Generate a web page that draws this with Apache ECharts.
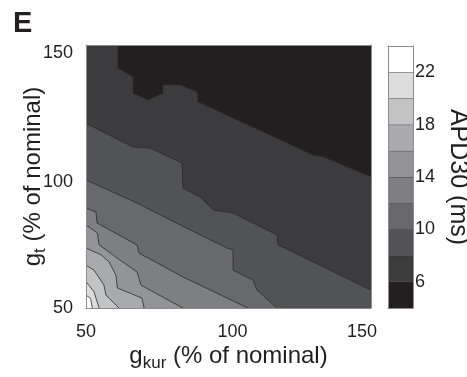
<!DOCTYPE html>
<html>
<head>
<meta charset="utf-8">
<script src="https://cdn.jsdelivr.net/npm/echarts@6/dist/echarts.min.js"></script>
<style>
  html, body { margin: 0; background: #fff; }
  #chart { width: 467px; height: 377px; }
</style>
</head>
<body>
<div id="chart"></div>
<script>
// APD30 isolines, points are [gkur %, gt %]
const apd6 = [[61.2, 150], [61.2, 141.3], [66.5, 137.9], [66.5, 131.7], [71.8, 129.1], [77, 131.7], [77, 134.8], [83, 134.8], [88.9, 132.2], [89.3, 128.4], [129.6, 108.2], [133.2, 107.5], [150, 99.9]];
const apd8 = [[50, 120.2], [66.5, 111.2], [72.5, 110.8], [83.7, 105.1], [84, 95.6], [90, 92.2], [94.6, 87.3], [101.6, 86.1], [117, 77.8], [117.4, 74], [150, 56.8]];
const apd10 = [[50, 98.7], [67.9, 89.9], [83, 81.6], [99.5, 72.8], [101.6, 72.1], [101.6, 64.4], [108.6, 60.6], [110, 56.8], [117, 50]];
const apd12 = [[50, 88], [53.5, 86.5], [53.9, 82.3], [67.9, 74], [68.6, 70.9], [84, 61.8], [106.8, 50]];
const apd14 = [[50, 81.6], [54, 78.5], [54.6, 74], [58.1, 71.3], [60.9, 69], [67.9, 63.7], [69.3, 58.7], [84, 50]];
const apd16 = [[50, 72.8], [55.3, 70.2], [58.1, 67.5], [60.5, 62.5], [61, 57.6], [69.6, 53.8], [70.4, 50]];
const apd18 = [[50, 66.3], [52.8, 64.4], [56.3, 58.7], [57, 54.9], [61.6, 50]];
const apd20 = [[50, 60], [52.8, 56.2], [54.6, 50]];
const apd22 = [[50, 54.9], [51.6, 53.7], [52.2, 50]];

const levels = [4, 6, 8, 10, 12, 14, 16, 18, 20, 22];
const levelTop = 24;
const isolines = [null, apd6, apd8, apd10, apd12, apd14, apd16, apd18, apd20, apd22];
const axisTicks = [50, 100, 150];
const barTicks = [6, 10, 14, 18, 22];

const bandColors = ['#231f20', '#3c3c3e', '#525356', '#68696c', '#7e7f82', '#939497', '#a9aaad', '#c2c3c5', '#dcdddf', '#ffffff'];
const FONT = 'Liberation Sans, Arial, sans-serif';
const edge = '#8c8c8c';
const xMin = axisTicks[0], xMax = axisTicks[axisTicks.length - 1];

let chart = echarts.init(document.getElementById('chart'));

function boxAxis(grid, pos, min, max) {
    return {
        gridIndex: grid, type: 'value', position: pos, min: min, max: max, z: 5,
        nameMoveOverlap: false,
        axisLine: { show: true, onZero: false, lineStyle: { color: edge, width: 1 } },
        axisTick: { show: false }, axisLabel: { show: false }, splitLine: { show: false }
    };
}

const nameRich = {
    g: { fontSize: 24, fontFamily: FONT, color: '#231f20', verticalAlign: 'top', lineHeight: 23 },
    n: { fontSize: 24, fontFamily: FONT, color: '#231f20', verticalAlign: 'top', lineHeight: 23 },
    s: { fontSize: 17, fontFamily: FONT, color: '#231f20', lineHeight: 17, padding: [15, 0, 0, 0] }
};

let option = {
    animation: false,
    title: {
        text: 'E', left: 8, top: 4,
        textStyle: { fontSize: 29, fontWeight: 'bold', fontFamily: FONT, color: '#231f20' }
    },
    grid: [
        { left: 86, right: 96, top: 45, bottom: 69, outerBoundsMode: 'none', containLabel: false },
        { left: 388, width: 25, top: 46, bottom: 69, outerBoundsMode: 'none', containLabel: false }
    ],
    xAxis: [
        Object.assign(boxAxis(0, 'bottom', xMin, xMax), {
            interval: 50,
            axisLabel: {
                show: true, margin: 15, fontSize: 18, fontFamily: FONT, color: '#231f20',
                formatter: v => v === 150 ? '{r|150}' : v === 100 ? '{m|100}' : String(v),
                rich: {
                    r: { fontSize: 18, fontFamily: FONT, color: '#231f20', padding: [0, 18, 0, 0] },
                    m: { fontSize: 18, fontFamily: FONT, color: '#231f20', padding: [0, 0, 0, 8] }
                }
            },
            name: '{g|g}{s|kur}{n| (% of nominal)}',
            nameLocation: 'middle', nameGap: 36,
            nameTextStyle: { rich: nameRich }
        }),
        boxAxis(0, 'top', xMin, xMax),
        boxAxis(1, 'bottom', 0, 1),
        boxAxis(1, 'top', 0, 1)
    ],
    yAxis: [
        Object.assign(boxAxis(0, 'left', xMin, xMax), {
            interval: 50,
            axisLabel: {
                show: true, margin: 13, fontSize: 18, fontFamily: FONT, color: '#231f20',
                formatter: v => v === 150 ? '{t|150}' : v === 100 ? '{m|100}' : String(v),
                rich: {
                    t: { fontSize: 18, fontFamily: FONT, color: '#231f20', padding: [16, 0, 0, 0] },
                    m: { fontSize: 18, fontFamily: FONT, color: '#231f20', padding: [12, 0, 0, 0] }
                }
            },
            name: '{g|g}{s|t}{n| (% of nominal)}',
            nameLocation: 'middle', nameGap: 42, nameRotate: 90,
            nameTextStyle: { rich: nameRich }
        }),
        boxAxis(0, 'right', xMin, xMax),
        boxAxis(1, 'left', levels[0], levelTop),
        Object.assign(boxAxis(1, 'right', levels[0], levelTop), {
            interval: 2,
            axisLabel: {
                show: true, margin: 2, fontSize: 18, fontFamily: FONT, color: '#231f20',
                formatter: v => barTicks.indexOf(v) >= 0 ? String(v) : ''
            },
            name: 'APD30 (ms)',
            nameLocation: 'middle', nameGap: 32, nameRotate: -90,
            nameTextStyle: { fontSize: 25, fontFamily: FONT, color: '#231f20' }
        })
    ],
    series: [
        {
            type: 'custom',
            coordinateSystem: 'cartesian2d',
            xAxisIndex: 0, yAxisIndex: 0,
            clip: true, silent: true,
            data: levels.map((lv, i) => [i]),
            renderItem: function (params, api) {
                const i = params.dataIndex;
                const line = isolines[i];
                let ring;
                if (!line) {
                    ring = [[xMin, xMin], [xMax, xMin], [xMax, xMax], [xMin, xMax]];
                } else {
                    ring = line.slice();
                    const first = line[0], last = line[line.length - 1];
                    if (last[0] === xMax) ring.push([xMax, xMin]);
                    ring.push([xMin, xMin]);
                    if (first[1] === xMax) ring.push([xMin, xMax]);
                }
                const children = [{
                    type: 'polygon',
                    shape: { points: ring.map(p => api.coord(p)) },
                    style: { fill: bandColors[i] }
                }];
                if (line) {
                    children.push({
                        type: 'polyline',
                        shape: { points: line.map(p => api.coord(p)) },
                        style: { fill: null, stroke: '#2b2b2b', lineWidth: 0.8 }
                    });
                }
                return { type: 'group', children: children };
            }
        },
        {
            type: 'custom',
            coordinateSystem: 'cartesian2d',
            xAxisIndex: 2, yAxisIndex: 2,
            silent: true,
            data: levels.map(lv => [0, lv]),
            renderItem: function (params, api) {
                const i = params.dataIndex;
                const lo = levels[i];
                const hi = i < levels.length - 1 ? levels[i + 1] : levelTop;
                const a = api.coord([0, lo]);
                const b = api.coord([1, hi]);
                const children = [{
                    type: 'rect',
                    shape: { x: a[0], y: b[1], width: b[0] - a[0], height: a[1] - b[1] },
                    style: { fill: bandColors[i] }
                }];
                if (hi < levelTop) {
                    children.push({
                        type: 'line',
                        shape: { x1: a[0], y1: b[1], x2: b[0], y2: b[1] },
                        style: { stroke: '#2b2b2b', lineWidth: 0.8 }
                    });
                }
                return { type: 'group', children: children };
            }
        }
    ]
};

chart.setOption(option);
</script>
</body>
</html>
